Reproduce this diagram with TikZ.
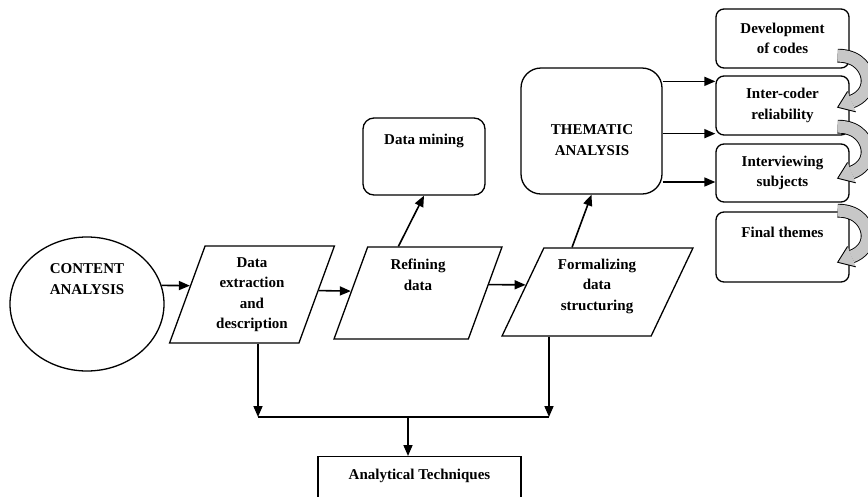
\documentclass[tikz,border=0pt]{standalone}
\usepackage{fontspec}
\setmainfont{Liberation Serif}
\usetikzlibrary{arrows.meta,calc,shapes.geometric}

\begin{document}
\begin{tikzpicture}[x=1pt,y=-1pt,
	font=\fontsize{15}{20.5}\selectfont\bfseries,
	every node/.style={align=center,inner sep=0pt},
	box/.style={draw,line width=1.3pt,rounded corners=8pt,minimum width=133pt},
	para/.style={draw,line width=1.3pt,trapezium,trapezium left angle=70,trapezium right angle=110,trapezium stretches=true},
	arr/.style={line width=1.6pt,-{Triangle[length=11pt,width=9pt]}},
	band/.style={line width=0.9pt,double=black!22,double distance=12pt}]
	\useasboundingbox (0,0) rectangle (868,496);
	% main chain
	\node[draw,ellipse,line width=1.3pt,minimum width=154pt,minimum height=134pt] (ca) at (87,304) {};
	\node (catxt) at (87,279) {CONTENT\\ANALYSIS};
	\node[para,minimum width=165pt,minimum height=97pt] (p1) at (252,294.5) {Data\\extraction\\and\\description};
	\node[para,minimum width=168pt,minimum height=92pt] (p2) at (418,293) {\phantom{x}};
	\node (p2txt) at (418,275) {Refining\\data};
	\node[para,trapezium left angle=67,trapezium right angle=113,minimum width=191pt,minimum height=88pt] (p3) at (597.5,292) {\phantom{x}};
	\node (p3txt) at (597,286) {Formalizing\\data\\structuring};
	% upper boxes
	\node[box,rounded corners=11pt,minimum width=122pt,minimum height=77pt] (dm) at (424,156.5) {};
	\node (dmtxt) at (424,141) {Data mining};
	\node[box,rounded corners=20pt,minimum width=141pt,minimum height=126pt] (ta) at (591.5,131) {};
	\node (tatxt) at (592,140) {THEMATIC\\ANALYSIS};
	% themes column
	\node[box,minimum height=59pt] (r1) at (782.5,38.5) {Development\\of codes};
	\node[box,minimum height=59pt] (r2) at (782.5,105.5) {Inter-coder\\reliability};
	\node[box,minimum height=58pt] (r3) at (782.5,173) {Interviewing\\subjects};
	\node[box,minimum height=70pt] (r4) at (782.5,247) {};
	\node (r4txt) at (782.5,232) {Final themes};
	% bottom box
	\node[draw,line width=1.3pt,minimum width=203pt,minimum height=60pt,anchor=north] (at) at (419.5,456) {};
	\node (attxt) at (419.5,476) {Analytical Techniques};

	\draw[arr] (ca.14) -- ($(p1.bottom left corner)!0.59!(p1.top left corner)$);
	\draw[arr] ($(p1.top right corner)!0.46!(p1.bottom right corner)$) -- ($(p2.top left corner)!0.48!(p2.bottom left corner)$);
	\draw[arr] ($(p2.top right corner)!0.41!(p2.bottom right corner)$) -- ($(p3.top left corner)!0.42!(p3.bottom left corner)$);
	\draw[arr] ($(p2.top left corner)!0.23!(p2.top right corner)$) -- (dm.south);
	\draw[arr] ($(p3.top left corner)!0.19!(p3.top right corner)$) -- (ta.south);
	\draw[arr] ([yshift=-6pt]ta.east |- r2.north) -- ([yshift=-6pt]r2.north west);
	\draw[arr] ([yshift=2pt]ta.east |- r2.south) -- ([yshift=2pt]r2.south west);
	\draw[arr] ([yshift=-9pt]ta.east |- r3.west) -- ([yshift=-9pt]r3.west);

	\coordinate (jl) at (258,417);
	\coordinate (jr) at (549,417);
	\coordinate (jm) at (408,417);
	\draw[arr] (jl |- p1.south) -- (jl);
	\draw[arr] (jr |- p3.south) -- (jr);
	\draw[line width=1.6pt] (jl) -- (jr);
	\draw[arr] (jm) -- (jm |- at.north);

	% curved block arrows between the theme boxes
	\foreach \a/\dy in {r1/-20,r2/-16,r3/1}
	{
		\begin{scope}[shift={($(\a.south east)+(-12,\dy)$)}]
			\draw[band] (0,7) .. controls (22,7) and (30,22) .. (30,32) .. controls (30,42) and (24,49) .. (14,53);
			\filldraw[fill=black!22,line width=0.9pt] (9.9,42.8) -- (0,58.6) -- (18.1,63.2);
		\end{scope}
	}
\end{tikzpicture}
\end{document}
